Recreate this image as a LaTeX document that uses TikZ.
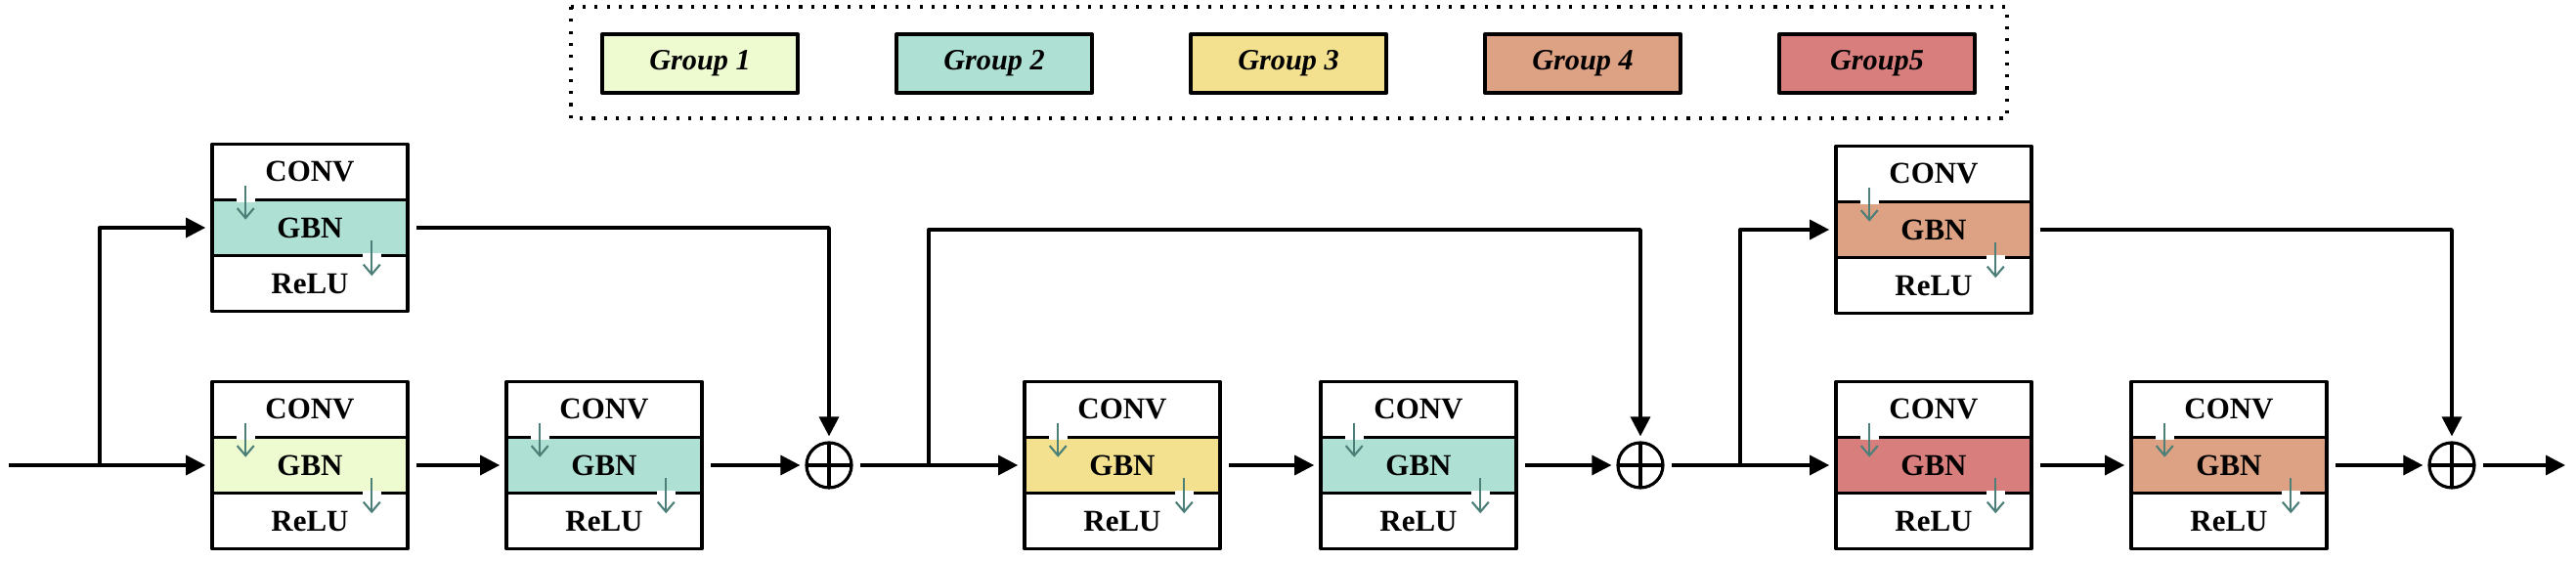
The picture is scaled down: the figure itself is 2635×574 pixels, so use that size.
\documentclass[tikz,border=0pt]{standalone}
\usepackage{fontspec}
\setmainfont{Liberation Serif}
\usetikzlibrary{arrows.meta,positioning}
\definecolor{gA}{HTML}{EEFBD0}
\definecolor{gB}{HTML}{AEE0D3}
\definecolor{gC}{HTML}{F3E18F}
\definecolor{gD}{HTML}{DCA283}
\definecolor{gE}{HTML}{D87F7E}
\definecolor{arw}{HTML}{4B7F78}
\begin{document}
\begin{tikzpicture}[x=0.01cm, y=-0.01cm, line join=round, >={Triangle[length=0.2cm,width=0.2cm]},
  font=\fontsize{8.8}{10}\selectfont\bfseries,
  sec/.style={draw, line width=1pt, minimum width=2cm, minimum height=0.57cm, inner sep=0pt},
  lg/.style={draw, line width=1.1pt, minimum width=2cm, minimum height=0.6cm, inner sep=0pt, font=\fontsize{8.6}{10}\selectfont\bfseries\itshape},
  sum/.style={circle, draw, line width=0.9pt, minimum size=0.46cm, inner sep=0pt,
    path picture={\draw[line width=0.9pt] (path picture bounding box.north)--(path picture bounding box.south) (path picture bounding box.west)--(path picture bounding box.east);}},
  ln/.style={line width=0.95pt, shorten >=0.05cm},
  gap/.style={shorten <=0.07cm},
  tick/.style={-{Straight Barb[length=0.1cm,width=0.17cm]}, draw=arw, line width=0.6pt}]
\useasboundingbox (0,0) rectangle (2635,574);
\draw[line width=0.9pt, dash pattern=on 0.9pt off 2.6pt] (584,7) rectangle (2053,121);
\foreach \c/\t [count=\i from 0] in {gA/Group 1, gB/Group 2, gC/Group 3, gD/Group 4, gE/Group5}
  \node[lg, fill=\c] (lg\i) at (716+301*\i,65) {\t};
\foreach \n/\x/\y/\c in {a/217/233/gB, b/217/476/gA, c/518/476/gB, d/1048/476/gC, e/1351/476/gB, f/1878/235/gD, g/1878/476/gE, h/2180/476/gD}{
  \node[sec, fill=\c] (\n) at (\x+100,\y) {GBN};
  \node[sec, above=-1pt of \n] (\n c) {CONV};
  \node[sec, below=-1pt of \n] (\n r) {ReLU};
  \draw[white, line width=1.6pt] ([xshift=0.27cm,yshift=-0.5pt]\n.north west)--++(0.19cm,0);
  \draw[white, line width=1.6pt] ([xshift=1.56cm,yshift=0.5pt]\n.south west)--++(0.19cm,0);
  \draw[tick] ([xshift=0.36cm,yshift=0.13cm]\n.north west)--++(0,-0.35cm);
  \draw[tick] ([xshift=1.65cm,yshift=0.17cm]\n.south west)--++(0,-0.36cm);
}
\node[sum] (s1) at (848,476) {};
\node[sum] (s2) at (1678,476) {};
\node[sum] (s3) at (2508,476) {};
\coordinate (in) at (9,476);
\coordinate (out) at (2629,476);
\coordinate (j1) at (102,476);
\coordinate (j2) at (950,476);
\coordinate (t2) at (950,235);
\coordinate (j3) at (1780,476);
\draw[ln,->] (in)--(b);
\draw[ln,->] (j1)|-(a);
\draw[ln,->,gap] (a)-|(s1);
\draw[ln,->,gap] (b)--(c);
\draw[ln,->,gap] (c)--(s1);
\draw[ln,->,gap] (s1)--(d);
\draw[ln,->] (j2)--(t2)-|(s2);
\draw[ln,->,gap] (d)--(e);
\draw[ln,->,gap] (e)--(s2);
\draw[ln,->,gap] (s2)--(g);
\draw[ln,->] (j3)|-(f);
\draw[ln,->,gap] (f)-|(s3);
\draw[ln,->,gap] (g)--(h);
\draw[ln,->,gap] (h)--(s3);
\draw[ln,->,gap] (s3)--(out);
\end{tikzpicture}
\end{document}
